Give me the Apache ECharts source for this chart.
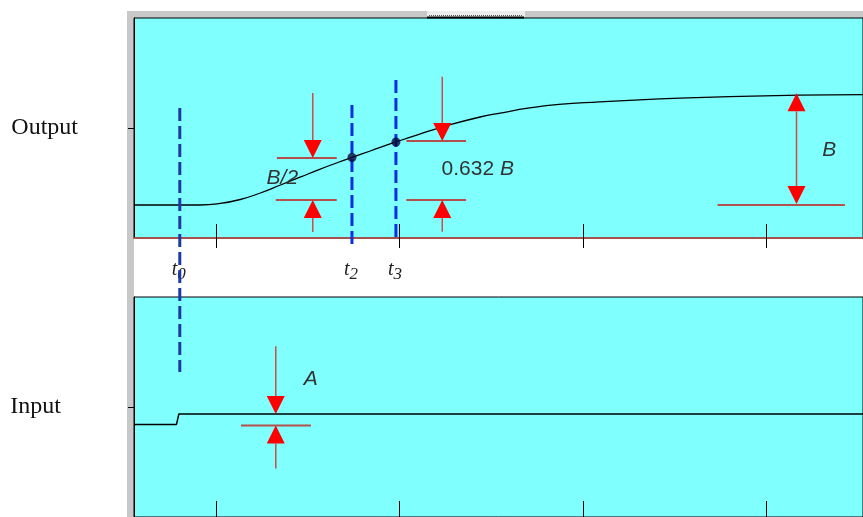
<!DOCTYPE html>
<html>
<head>
<meta charset="utf-8">
<script src="https://cdn.jsdelivr.net/npm/echarts@6/dist/echarts.min.js"></script>
<style>
  html, body { margin: 0; padding: 0; background: #fff; }
  #chart { width: 863px; height: 517px; }
</style>
</head>
<body>
<div id="chart"></div>
<script>
// time axis (same for both panels), tick positions
const tMin = 0.55;
const tMax = 4.53;
const timeTicks = [1, 2, 3, 4];

// output response, in units of B
const outT = [0.55, 0.91, 1.02, 1.13, 1.24, 1.35, 1.46, 1.56, 1.67, 1.74, 1.84, 1.98, 2.11, 2.27, 2.44, 2.55, 2.71, 2.87, 3.09, 3.31, 3.53, 3.80, 4.18, 4.53];
const outV = [0, 0, 0.014, 0.05, 0.109, 0.182, 0.255, 0.322, 0.391, 0.432, 0.491, 0.573, 0.645, 0.727, 0.80, 0.836, 0.882, 0.914, 0.937, 0.956, 0.971, 0.985, 0.998, 1.004];

// input step
const inT = [0.55, 0.782, 0.795, 4.53];
const inV = [0.842, 0.842, 0.937, 0.937];

// marked times t0, t2, t3
const markTimes = [0.80, 1.74, 1.98];
const markSubs = ['0', '2', '3'];
const markTop = [0.882, 0.909, 1.136];
const markBottom = [-1.518, -0.40, -0.327];
const markColors = ['#1c3aa6', '#0b2fe0', '#0b2fe0'];
const dotTimes = [1.74, 1.98];
const dotValues = [0.432, 0.573];

// arrows: [t, tail, tip]
const outArrows = [
  [1.526, 1.018, 0.427],
  [1.526, -0.245, 0.045],
  [2.233, 1.167, 0.582],
  [2.233, -0.243, 0.045],
  [4.167, 0.5, 1.015],
  [4.167, 0.5, 0.009]
];
const inArrows = [
  [1.324, 1.552, 0.937],
  [1.324, 0.441, 0.831]
];
// reference lines: [tStart, tEnd, value]
const outRefLines = [
  [1.330, 1.657, 0.427],
  [1.324, 1.657, 0.045],
  [2.037, 2.363, 0.582],
  [2.037, 2.363, 0.045],
  [3.736, 4.431, 0]
];
const inRefLines = [
  [1.134, 1.516, 0.831]
];
// annotation texts: [t, value]
const outNotePos = [[1.274, 0.245], [2.229, 0.327], [4.307, 0.495]];
const outNoteText = ['{i|B/2}', '0.632 {i|B}', '{i|B}'];
const inNotePos = [[1.477, 1.257]];
const inNoteText = ['{i|A}'];

const chart = echarts.init(document.getElementById('chart'), null, { renderer: 'canvas' });

const cyan = '#80ffff';
const noteRich = { i: { fontStyle: 'italic', fontFamily: 'Liberation Sans', fontSize: 21, fill: '#333' } };

function arrowItem(params, api) {
  const tip = api.coord([api.value(0), api.value(2)]);
  const tail = api.coord([api.value(0), api.value(1)]);
  const dir = tip[1] > tail[1] ? 1 : -1;
  const h = 18, w = 9;
  return {
    type: 'group',
    children: [
      { type: 'line', shape: { x1: tail[0], y1: tail[1], x2: tip[0], y2: tip[1] - dir * h }, style: { stroke: '#cc4c4c', lineWidth: 1.5 } },
      { type: 'polygon', shape: { points: [[tip[0], tip[1]], [tip[0] - w, tip[1] - dir * h], [tip[0] + w, tip[1] - dir * h]] }, style: { fill: '#ff0000' } }
    ]
  };
}

function refLineItem(params, api) {
  const a = api.coord([api.value(0), api.value(2)]);
  const b = api.coord([api.value(1), api.value(2)]);
  return { type: 'line', shape: { x1: a[0], y1: a[1], x2: b[0], y2: b[1] }, style: { stroke: '#b4504c', lineWidth: 2 } };
}

function noteItem(texts) {
  return function (params, api) {
    const p = api.coord([api.value(0), api.value(1)]);
    return {
      type: 'text',
      style: {
        x: p[0], y: p[1], text: texts[params.dataIndex],
        align: 'left', verticalAlign: 'middle',
        fontFamily: 'Liberation Sans', fontSize: 21, fill: '#333',
        rich: noteRich
      }
    };
  };
}

function dashItem(params, api) {
  const a = api.coord([api.value(0), api.value(1)]);
  const b = api.coord([api.value(0), api.value(2)]);
  return {
    type: 'line',
    shape: { x1: a[0], y1: a[1], x2: b[0], y2: b[1] },
    style: { stroke: markColors[params.dataIndex], lineWidth: 3, lineDash: [13, 5] }
  };
}

const timeAxisBase = {
  type: 'value', min: tMin, max: tMax,
  splitLine: { show: false },
  axisLine: { onZero: false }
};

const option = {
  backgroundColor: '#fff',
  animation: false,
  graphic: [
    { type: 'rect', z: -10, shape: { x: 127, y: 11, width: 736, height: 7 }, style: { fill: '#c8c8c8' } },
    { type: 'rect', z: -10, shape: { x: 127, y: 11, width: 7, height: 506 }, style: { fill: '#c8c8c8' } },
    { type: 'rect', z: -9, shape: { x: 427, y: 11, width: 98, height: 6 }, style: { fill: '#ececec' } },
    { type: 'line', z: -8, shape: { x1: 429, y1: 15.5, x2: 522, y2: 15.5 }, style: { stroke: '#555', lineWidth: 1, lineDash: [1, 1] } },
    { type: 'line', z: 10, shape: { x1: 427, y1: 17.5, x2: 524, y2: 17.5 }, style: { stroke: '#000', lineWidth: 2 } }
  ],
  grid: [
    { left: 134, top: 18, width: 730, height: 220, show: true, backgroundColor: cyan, borderColor: '#000', borderWidth: 1 },
    { left: 134, top: 297, width: 730, height: 222, show: true, backgroundColor: cyan, borderColor: '#000', borderWidth: 1 }
  ],
  xAxis: [
    Object.assign({}, timeAxisBase, {
      gridIndex: 0, position: 'bottom',
      axisLine: { onZero: false, lineStyle: { color: '#a4524c', width: 2 } },
      axisTick: { inside: true, length: 14, customValues: timeTicks, lineStyle: { color: '#000', width: 1 } },
      axisLabel: { show: false }
    }),
    Object.assign({}, timeAxisBase, {
      gridIndex: 0, position: 'bottom',
      axisLine: { show: false, onZero: false },
      axisTick: { show: true, inside: false, length: 10, customValues: timeTicks, lineStyle: { color: '#000', width: 1 } },
      axisLabel: {
        customValues: markTimes,
        margin: 19,
        formatter: function (v) {
          let k = 0;
          markTimes.forEach(function (m, i) { if (Math.abs(m - v) < 1e-6) k = i; });
          return '{t|t}{s|' + markSubs[k] + '}';
        },
        rich: {
          t: { fontFamily: 'Liberation Serif', fontStyle: 'italic', fontSize: 20, color: '#222' },
          s: { fontFamily: 'Liberation Serif', fontStyle: 'italic', fontSize: 17, color: '#222', padding: [9, 2, 0, 0] }
        }
      }
    }),
    Object.assign({}, timeAxisBase, {
      gridIndex: 1, position: 'bottom',
      axisLine: { onZero: false, lineStyle: { color: '#000', width: 1 } },
      axisTick: { inside: true, length: 16, customValues: timeTicks, lineStyle: { color: '#000', width: 1 } },
      axisLabel: { show: false }
    })
  ],
  yAxis: [
    {
      gridIndex: 0, type: 'value', min: -0.3, max: 1.7,
      splitLine: { show: false },
      axisLine: { show: true, onZero: false, lineStyle: { color: '#000' } },
      axisTick: { show: true, length: 6, customValues: [0.7], lineStyle: { color: '#000' } },
      axisLabel: { show: false },
      name: 'Output', nameLocation: 'middle', nameRotate: 0, nameGap: 56,
      nameTextStyle: { fontFamily: 'Liberation Serif', fontSize: 24, color: '#111' }
    },
    {
      gridIndex: 1, type: 'value', min: 0, max: 2,
      splitLine: { show: false },
      axisLine: { show: true, onZero: false, lineStyle: { color: '#000' } },
      axisTick: { show: true, length: 6, customValues: [1], lineStyle: { color: '#000' } },
      axisLabel: { show: false },
      name: 'Input', nameLocation: 'middle', nameRotate: 0, nameGap: 73,
      nameTextStyle: { fontFamily: 'Liberation Serif', fontSize: 24, color: '#111' }
    }
  ],
  series: [
    {
      name: 'refs', type: 'custom', xAxisIndex: 0, yAxisIndex: 0,
      renderItem: refLineItem, data: outRefLines, z: 2
    },
    {
      name: 'Output', type: 'line', xAxisIndex: 0, yAxisIndex: 0,
      data: outT.map(function (t, i) { return [t, outV[i]]; }),
      smooth: true, showSymbol: false, z: 3,
      lineStyle: { color: '#000', width: 1.3 }
    },
    {
      name: 'marks', type: 'custom', xAxisIndex: 0, yAxisIndex: 0,
      renderItem: dashItem, z: 4,
      data: markTimes.map(function (t, i) { return [t, markTop[i], markBottom[i]]; })
    },
    {
      name: 'dots', type: 'scatter', xAxisIndex: 0, yAxisIndex: 0, z: 5,
      data: dotTimes.map(function (t, i) { return [t, dotValues[i]]; }),
      symbolSize: 9, itemStyle: { color: '#0a0a3c' }
    },
    {
      name: 'outArrows', type: 'custom', xAxisIndex: 0, yAxisIndex: 0,
      renderItem: arrowItem, data: outArrows, z: 6
    },
    {
      name: 'outNotes', type: 'custom', xAxisIndex: 0, yAxisIndex: 0,
      renderItem: noteItem(outNoteText), data: outNotePos, z: 6
    },
    {
      name: 'inRefs', type: 'custom', xAxisIndex: 2, yAxisIndex: 1,
      renderItem: refLineItem, data: inRefLines, z: 2
    },
    {
      name: 'Input', type: 'line', xAxisIndex: 2, yAxisIndex: 1,
      data: inT.map(function (t, i) { return [t, inV[i]]; }),
      showSymbol: false, z: 3,
      lineStyle: { color: '#000', width: 1.5 }
    },
    {
      name: 'inArrows', type: 'custom', xAxisIndex: 2, yAxisIndex: 1,
      renderItem: arrowItem, data: inArrows, z: 6
    },
    {
      name: 'inNotes', type: 'custom', xAxisIndex: 2, yAxisIndex: 1,
      renderItem: noteItem(inNoteText), data: inNotePos, z: 6
    }
  ]
};

chart.setOption(option);
</script>
</body>
</html>
